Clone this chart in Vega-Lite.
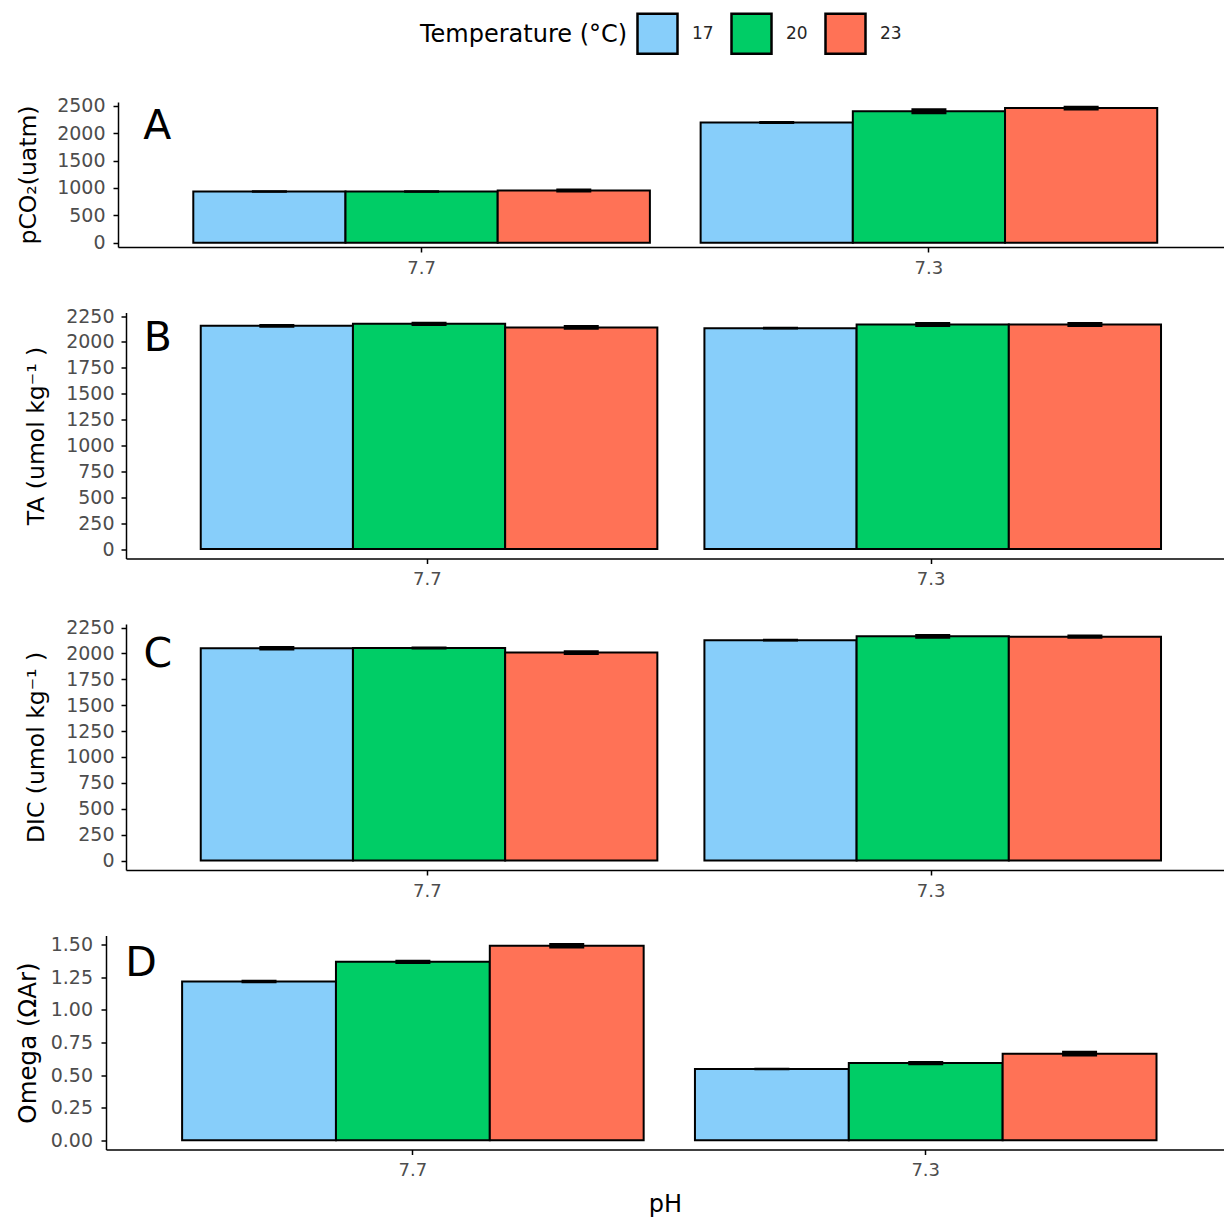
{
  "$schema": "https://vega.github.io/schema/vega-lite/v6.json",
  "background": "white",
  "padding": {"left": 10, "top": 12, "right": 0, "bottom": 0},
  "datasets": {
    "carb": [
      {"param": "pCO2", "pH": "7.7", "Temperature": "17", "mean": 935, "lo": 930, "hi": 940},
      {"param": "pCO2", "pH": "7.7", "Temperature": "20", "mean": 935, "lo": 932, "hi": 938},
      {"param": "pCO2", "pH": "7.7", "Temperature": "23", "mean": 955, "lo": 937, "hi": 973},
      {"param": "pCO2", "pH": "7.3", "Temperature": "17", "mean": 2200, "lo": 2191, "hi": 2209},
      {"param": "pCO2", "pH": "7.3", "Temperature": "20", "mean": 2405, "lo": 2368, "hi": 2442},
      {"param": "pCO2", "pH": "7.3", "Temperature": "23", "mean": 2462, "lo": 2437, "hi": 2487},
      {"param": "TA", "pH": "7.7", "Temperature": "17", "mean": 2155, "lo": 2147, "hi": 2163},
      {"param": "TA", "pH": "7.7", "Temperature": "20", "mean": 2175, "lo": 2164, "hi": 2186},
      {"param": "TA", "pH": "7.7", "Temperature": "23", "mean": 2140, "lo": 2126, "hi": 2154},
      {"param": "TA", "pH": "7.3", "Temperature": "17", "mean": 2133, "lo": 2130, "hi": 2136},
      {"param": "TA", "pH": "7.3", "Temperature": "20", "mean": 2168, "lo": 2154, "hi": 2182},
      {"param": "TA", "pH": "7.3", "Temperature": "23", "mean": 2168, "lo": 2154, "hi": 2182},
      {"param": "DIC", "pH": "7.7", "Temperature": "17", "mean": 2050, "lo": 2039, "hi": 2061},
      {"param": "DIC", "pH": "7.7", "Temperature": "20", "mean": 2052, "lo": 2047, "hi": 2057},
      {"param": "DIC", "pH": "7.7", "Temperature": "23", "mean": 2008, "lo": 1994, "hi": 2022},
      {"param": "DIC", "pH": "7.3", "Temperature": "17", "mean": 2128, "lo": 2125, "hi": 2131},
      {"param": "DIC", "pH": "7.3", "Temperature": "20", "mean": 2165, "lo": 2151, "hi": 2179},
      {"param": "DIC", "pH": "7.3", "Temperature": "23", "mean": 2162, "lo": 2151, "hi": 2173},
      {"param": "Omega", "pH": "7.7", "Temperature": "17", "mean": 1.218, "lo": 1.212, "hi": 1.224},
      {"param": "Omega", "pH": "7.7", "Temperature": "20", "mean": 1.369, "lo": 1.36, "hi": 1.378},
      {"param": "Omega", "pH": "7.7", "Temperature": "23", "mean": 1.492, "lo": 1.478, "hi": 1.506},
      {"param": "Omega", "pH": "7.3", "Temperature": "17", "mean": 0.546, "lo": 0.544, "hi": 0.548},
      {"param": "Omega", "pH": "7.3", "Temperature": "20", "mean": 0.592, "lo": 0.583, "hi": 0.601},
      {"param": "Omega", "pH": "7.3", "Temperature": "23", "mean": 0.664, "lo": 0.65, "hi": 0.678}
    ]
  },
  "config": {
    "font": "DejaVu Sans",
    "view": {"stroke": null},
    "axis": {
      "grid": false,
      "domainColor": "black",
      "domainWidth": 1.5,
      "tickColor": "black",
      "tickWidth": 1.5,
      "tickSize": 5,
      "labelColor": "#4D4D4D",
      "labelFont": "DejaVu Sans",
      "titleFont": "DejaVu Sans",
      "titleColor": "black",
      "titleFontWeight": "normal",
      "labelOverlap": false
    },
    "axisX": {"labelAngle": 0, "labelPadding": 7, "labelFontSize": 18},
    "axisY": {"labelFontSize": 19},
    "legend": {
      "orient": "none",
      "legendX": 410,
      "legendY": -90,
      "direction": "horizontal",
      "padding": 0,
      "titleOrient": "left",
      "titleAnchor": "middle",
      "titleFontSize": 24,
      "titleFontWeight": "normal",
      "titleColor": "black",
      "titleFont": "DejaVu Sans",
      "titlePadding": 8,
      "titleLimit": 400,
      "labelFontSize": 17,
      "labelColor": "#262626",
      "labelFont": "DejaVu Sans",
      "labelOffset": 13,
      "columnPadding": 12,
      "symbolType": "square",
      "symbolSize": 1600,
      "symbolStrokeColor": "black",
      "symbolStrokeWidth": 2.5,
      "symbolOpacity": 1
    }
  },
  "vconcat": [
    {
      "spacing": 29.5,
      "vconcat": [
        {
          "spacing": 0,
          "hconcat": [
            {"width": 6, "height": 1, "data": {"values": []}, "mark": {"type": "point"}, "encoding": {}},
            {
              "width": 1106,
              "height": 145,
              "layer": [
                {
                  "data": {"name": "carb"},
                  "transform": [{"filter": "datum.param === 'pCO2'"}],
                  "mark": {"type": "bar", "stroke": "black", "strokeWidth": 2},
                  "encoding": {
                    "x": {"field": "pH", "type": "nominal", "scale": {"domain": ["7.7", "7.3"], "paddingInner": 0.1, "paddingOuter": 0.14, "align": 0.53}, "axis": {"title": null}},
                    "xOffset": {"field": "Temperature", "type": "nominal", "scale": {"domain": ["17", "20", "23"], "paddingInner": 0, "paddingOuter": 0}},
                    "y": {"field": "mean", "type": "quantitative", "title": "pCO₂(uatm)", "scale": {"domain": [-80, 2573], "nice": false, "zero": false}, "axis": {"values": [0, 500, 1000, 1500, 2000, 2500], "format": "d", "minExtent": 70, "maxExtent": 70, "titlePadding": 7.5, "labelPadding": 8, "titleFontSize": 23.5}},
                    "y2": {"datum": 0},
                    "color": {"field": "Temperature", "type": "nominal", "scale": {"domain": ["17", "20", "23"], "range": ["#87CEFA", "#00CD66", "#FF7256"]}, "legend": {"title": "Temperature (°C)"}}
                  }
                },
                {
                  "data": {"name": "carb"},
                  "transform": [{"filter": "datum.param === 'pCO2'"}],
                  "mark": {"type": "bar", "width": 33, "fill": "black", "stroke": "black", "strokeWidth": 2},
                  "encoding": {
                    "x": {"field": "pH", "type": "nominal", "scale": {"domain": ["7.7", "7.3"], "paddingInner": 0.1, "paddingOuter": 0.14, "align": 0.53}, "axis": {"title": null}},
                    "xOffset": {"field": "Temperature", "type": "nominal", "scale": {"domain": ["17", "20", "23"], "paddingInner": 0, "paddingOuter": 0}},
                    "y": {"field": "lo", "type": "quantitative", "title": "pCO₂(uatm)", "scale": {"domain": [-80, 2573], "nice": false, "zero": false}, "axis": {"values": [0, 500, 1000, 1500, 2000, 2500], "format": "d", "minExtent": 70, "maxExtent": 70, "titlePadding": 7.5, "labelPadding": 8, "titleFontSize": 23.5}},
                    "y2": {"field": "hi"}
                  }
                },
                {
                  "data": {"values": [{"panel": "A", "pH": "7.7"}]},
                  "mark": {"type": "text", "fontSize": 41, "dx": -36, "align": "center", "baseline": "alphabetic", "color": "black"},
                  "encoding": {
                    "x": {"field": "pH", "type": "nominal", "bandPosition": 0, "scale": {"domain": ["7.7", "7.3"], "paddingInner": 0.1, "paddingOuter": 0.14, "align": 0.53}, "axis": {"title": null}},
                    "y": {"datum": 1890, "type": "quantitative", "title": "pCO₂(uatm)", "scale": {"domain": [-80, 2573], "nice": false, "zero": false}, "axis": {"values": [0, 500, 1000, 1500, 2000, 2500], "format": "d", "minExtent": 70, "maxExtent": 70, "titlePadding": 7.5, "labelPadding": 8, "titleFontSize": 23.5}},
                    "text": {"field": "panel"}
                  }
                }
              ]
            }
          ]
        },
        {
          "spacing": 0,
          "hconcat": [
            {"width": 14, "height": 1, "data": {"values": []}, "mark": {"type": "point"}, "encoding": {}},
            {
              "width": 1098,
              "height": 246,
              "layer": [
                {
                  "data": {"name": "carb"},
                  "transform": [{"filter": "datum.param === 'TA'"}],
                  "mark": {"type": "bar", "stroke": "black", "strokeWidth": 2},
                  "encoding": {
                    "x": {"field": "pH", "type": "nominal", "scale": {"domain": ["7.7", "7.3"], "paddingInner": 0.1, "paddingOuter": 0.14, "align": 0.53}, "axis": {"title": null}},
                    "xOffset": {"field": "Temperature", "type": "nominal", "scale": {"domain": ["17", "20", "23"], "paddingInner": 0, "paddingOuter": 0}},
                    "y": {"field": "mean", "type": "quantitative", "title": "TA (umol kg⁻¹ )", "scale": {"domain": [-91, 2284], "nice": false, "zero": false}, "axis": {"values": [0, 250, 500, 750, 1000, 1250, 1500, 1750, 2000, 2250], "format": "d", "minExtent": 70, "maxExtent": 70, "titlePadding": 7.5, "labelPadding": 7, "titleFontSize": 23.5}},
                    "y2": {"datum": 0},
                    "color": {"field": "Temperature", "type": "nominal", "scale": {"domain": ["17", "20", "23"], "range": ["#87CEFA", "#00CD66", "#FF7256"]}, "legend": {"title": "Temperature (°C)"}}
                  }
                },
                {
                  "data": {"name": "carb"},
                  "transform": [{"filter": "datum.param === 'TA'"}],
                  "mark": {"type": "bar", "width": 33, "fill": "black", "stroke": "black", "strokeWidth": 2},
                  "encoding": {
                    "x": {"field": "pH", "type": "nominal", "scale": {"domain": ["7.7", "7.3"], "paddingInner": 0.1, "paddingOuter": 0.14, "align": 0.53}, "axis": {"title": null}},
                    "xOffset": {"field": "Temperature", "type": "nominal", "scale": {"domain": ["17", "20", "23"], "paddingInner": 0, "paddingOuter": 0}},
                    "y": {"field": "lo", "type": "quantitative", "title": "TA (umol kg⁻¹ )", "scale": {"domain": [-91, 2284], "nice": false, "zero": false}, "axis": {"values": [0, 250, 500, 750, 1000, 1250, 1500, 1750, 2000, 2250], "format": "d", "minExtent": 70, "maxExtent": 70, "titlePadding": 7.5, "labelPadding": 7, "titleFontSize": 23.5}},
                    "y2": {"field": "hi"}
                  }
                },
                {
                  "data": {"values": [{"panel": "B", "pH": "7.7"}]},
                  "mark": {"type": "text", "fontSize": 41, "dx": -43, "align": "center", "baseline": "alphabetic", "color": "black"},
                  "encoding": {
                    "x": {"field": "pH", "type": "nominal", "bandPosition": 0, "scale": {"domain": ["7.7", "7.3"], "paddingInner": 0.1, "paddingOuter": 0.14, "align": 0.53}, "axis": {"title": null}},
                    "y": {"datum": 1914, "type": "quantitative", "title": "TA (umol kg⁻¹ )", "scale": {"domain": [-91, 2284], "nice": false, "zero": false}, "axis": {"values": [0, 250, 500, 750, 1000, 1250, 1500, 1750, 2000, 2250], "format": "d", "minExtent": 70, "maxExtent": 70, "titlePadding": 7.5, "labelPadding": 7, "titleFontSize": 23.5}},
                    "text": {"field": "panel"}
                  }
                }
              ]
            }
          ]
        },
        {
          "spacing": 0,
          "hconcat": [
            {"width": 14, "height": 1, "data": {"values": []}, "mark": {"type": "point"}, "encoding": {}},
            {
              "width": 1098,
              "height": 246,
              "layer": [
                {
                  "data": {"name": "carb"},
                  "transform": [{"filter": "datum.param === 'DIC'"}],
                  "mark": {"type": "bar", "stroke": "black", "strokeWidth": 2},
                  "encoding": {
                    "x": {"field": "pH", "type": "nominal", "scale": {"domain": ["7.7", "7.3"], "paddingInner": 0.1, "paddingOuter": 0.14, "align": 0.53}, "axis": {"title": null}},
                    "xOffset": {"field": "Temperature", "type": "nominal", "scale": {"domain": ["17", "20", "23"], "paddingInner": 0, "paddingOuter": 0}},
                    "y": {"field": "mean", "type": "quantitative", "title": "DIC (umol kg⁻¹ )", "scale": {"domain": [-91, 2284], "nice": false, "zero": false}, "axis": {"values": [0, 250, 500, 750, 1000, 1250, 1500, 1750, 2000, 2250], "format": "d", "minExtent": 70, "maxExtent": 70, "titlePadding": 7.5, "labelPadding": 7, "titleFontSize": 23.5}},
                    "y2": {"datum": 0},
                    "color": {"field": "Temperature", "type": "nominal", "scale": {"domain": ["17", "20", "23"], "range": ["#87CEFA", "#00CD66", "#FF7256"]}, "legend": {"title": "Temperature (°C)"}}
                  }
                },
                {
                  "data": {"name": "carb"},
                  "transform": [{"filter": "datum.param === 'DIC'"}],
                  "mark": {"type": "bar", "width": 33, "fill": "black", "stroke": "black", "strokeWidth": 2},
                  "encoding": {
                    "x": {"field": "pH", "type": "nominal", "scale": {"domain": ["7.7", "7.3"], "paddingInner": 0.1, "paddingOuter": 0.14, "align": 0.53}, "axis": {"title": null}},
                    "xOffset": {"field": "Temperature", "type": "nominal", "scale": {"domain": ["17", "20", "23"], "paddingInner": 0, "paddingOuter": 0}},
                    "y": {"field": "lo", "type": "quantitative", "title": "DIC (umol kg⁻¹ )", "scale": {"domain": [-91, 2284], "nice": false, "zero": false}, "axis": {"values": [0, 250, 500, 750, 1000, 1250, 1500, 1750, 2000, 2250], "format": "d", "minExtent": 70, "maxExtent": 70, "titlePadding": 7.5, "labelPadding": 7, "titleFontSize": 23.5}},
                    "y2": {"field": "hi"}
                  }
                },
                {
                  "data": {"values": [{"panel": "C", "pH": "7.7"}]},
                  "mark": {"type": "text", "fontSize": 41, "dx": -43, "align": "center", "baseline": "alphabetic", "color": "black"},
                  "encoding": {
                    "x": {"field": "pH", "type": "nominal", "bandPosition": 0, "scale": {"domain": ["7.7", "7.3"], "paddingInner": 0.1, "paddingOuter": 0.14, "align": 0.53}, "axis": {"title": null}},
                    "y": {"datum": 1870, "type": "quantitative", "title": "DIC (umol kg⁻¹ )", "scale": {"domain": [-91, 2284], "nice": false, "zero": false}, "axis": {"values": [0, 250, 500, 750, 1000, 1250, 1500, 1750, 2000, 2250], "format": "d", "minExtent": 70, "maxExtent": 70, "titlePadding": 7.5, "labelPadding": 7, "titleFontSize": 23.5}},
                    "text": {"field": "panel"}
                  }
                }
              ]
            }
          ]
        }
      ]
    },
    {
      "spacing": 0,
      "hconcat": [
        {"width": 4.5, "height": 1, "data": {"values": []}, "mark": {"type": "point"}, "encoding": {}},
        {
          "width": 1118,
          "height": 214,
          "layer": [
            {
              "data": {"name": "carb"},
              "transform": [{"filter": "datum.param === 'Omega'"}],
              "mark": {"type": "bar", "stroke": "black", "strokeWidth": 2},
              "encoding": {
                "x": {"field": "pH", "type": "nominal", "scale": {"domain": ["7.7", "7.3"], "paddingInner": 0.1, "paddingOuter": 0.14, "align": 0.53}, "axis": {"title": "pH", "titleFontSize": 24, "titlePadding": 13}},
                "xOffset": {"field": "Temperature", "type": "nominal", "scale": {"domain": ["17", "20", "23"], "paddingInner": 0, "paddingOuter": 0}},
                "y": {"field": "mean", "type": "quantitative", "title": "Omega (ΩAr)", "scale": {"domain": [-0.0713, 1.571], "nice": false, "zero": false}, "axis": {"values": [0, 0.25, 0.5, 0.75, 1, 1.25, 1.5], "format": ".2f", "minExtent": 58, "maxExtent": 58, "titlePadding": 8, "labelPadding": 8.5, "titleFontSize": 24.5}},
                "y2": {"datum": 0},
                "color": {"field": "Temperature", "type": "nominal", "scale": {"domain": ["17", "20", "23"], "range": ["#87CEFA", "#00CD66", "#FF7256"]}, "legend": {"title": "Temperature (°C)"}}
              }
            },
            {
              "data": {"name": "carb"},
              "transform": [{"filter": "datum.param === 'Omega'"}],
              "mark": {"type": "bar", "width": 33, "fill": "black", "stroke": "black", "strokeWidth": 2},
              "encoding": {
                "x": {"field": "pH", "type": "nominal", "scale": {"domain": ["7.7", "7.3"], "paddingInner": 0.1, "paddingOuter": 0.14, "align": 0.53}, "axis": {"title": "pH", "titleFontSize": 24, "titlePadding": 13}},
                "xOffset": {"field": "Temperature", "type": "nominal", "scale": {"domain": ["17", "20", "23"], "paddingInner": 0, "paddingOuter": 0}},
                "y": {"field": "lo", "type": "quantitative", "title": "Omega (ΩAr)", "scale": {"domain": [-0.0713, 1.571], "nice": false, "zero": false}, "axis": {"values": [0, 0.25, 0.5, 0.75, 1, 1.25, 1.5], "format": ".2f", "minExtent": 58, "maxExtent": 58, "titlePadding": 8, "labelPadding": 8.5, "titleFontSize": 24.5}},
                "y2": {"field": "hi"}
              }
            },
            {
              "data": {"values": [{"panel": "D", "pH": "7.7"}]},
              "mark": {"type": "text", "fontSize": 41, "dx": -41, "align": "center", "baseline": "alphabetic", "color": "black"},
              "encoding": {
                "x": {"field": "pH", "type": "nominal", "bandPosition": 0, "scale": {"domain": ["7.7", "7.3"], "paddingInner": 0.1, "paddingOuter": 0.14, "align": 0.53}, "axis": {"title": "pH", "titleFontSize": 24, "titlePadding": 13}},
                "y": {"datum": 1.264, "type": "quantitative", "title": "Omega (ΩAr)", "scale": {"domain": [-0.0713, 1.571], "nice": false, "zero": false}, "axis": {"values": [0, 0.25, 0.5, 0.75, 1, 1.25, 1.5], "format": ".2f", "minExtent": 58, "maxExtent": 58, "titlePadding": 8, "labelPadding": 8.5, "titleFontSize": 24.5}},
                "text": {"field": "panel"}
              }
            }
          ]
        }
      ]
    }
  ],
  "spacing": 35.5,
  "resolve": {"scale": {"x": "independent", "y": "independent", "xOffset": "independent"}}
}
